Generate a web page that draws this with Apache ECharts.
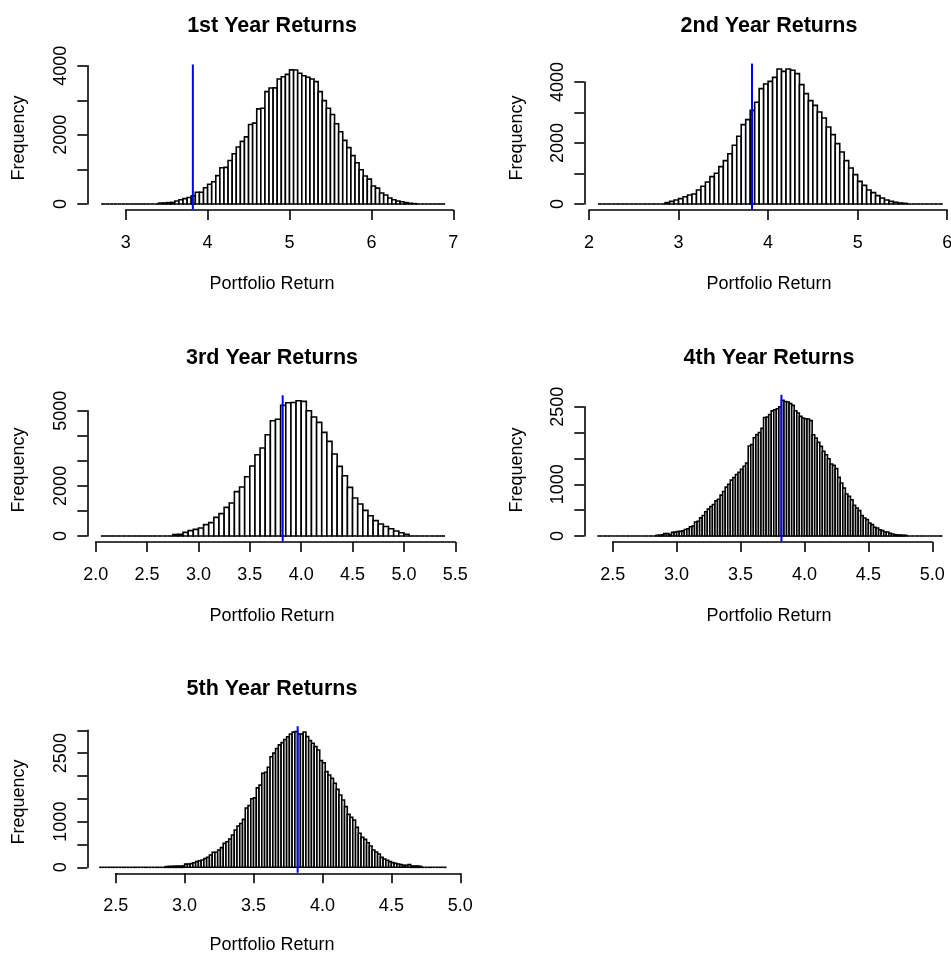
<!DOCTYPE html>
<html>
<head>
<meta charset="utf-8">
<script src="https://cdn.jsdelivr.net/npm/echarts@6/dist/echarts.min.js"></script>
<style>
html, body { margin: 0; padding: 0; background: #fff; }
#chart { width: 951px; height: 953px; }
</style>
</head>
<body>
<div id="chart"></div>
<script>
// titles of the five histograms
var titles = ['1st Year Returns', '2nd Year Returns', '3rd Year Returns', '4th Year Returns', '5th Year Returns'];
var xName = 'Portfolio Return';
var yName = 'Frequency';

// bin width, break range and first non-empty bin of each histogram
var binWidths = [0.05, 0.05, 0.05, 0.02, 0.02];
var breakRanges = [[2.70, 6.90], [2.10, 5.95], [2.05, 5.40], [2.38, 5.08], [2.38, 4.90]];
var firstBins = [3.40, 2.85, 2.75, 2.84, 2.86];

// bin counts
var counts1 = [25, 30, 40, 45, 85, 125, 155, 190, 240, 340, 340, 470, 570, 645, 820, 1050, 1060, 1260, 1455, 1650,
    1810, 1940, 2300, 2340, 2750, 2770, 3250, 3355, 3360, 3615, 3680, 3750, 3880, 3875, 3780, 3710, 3665, 3615, 3540, 3250,
    2990, 2770, 2590, 2320, 2090, 1840, 1630, 1400, 1195, 990, 810, 720, 520, 460, 320, 260, 175, 125, 85, 65, 40, 20, 10];
var counts2 = [44, 87, 131, 175, 240, 295, 328, 459, 580, 721, 896, 1006, 1224, 1421, 1650, 1924, 2219, 2601, 2765, 3071,
    3334, 3782, 3935, 4022, 4153, 4427, 4350, 4427, 4383, 4274, 3913, 3618, 3388, 3235, 3017, 2820, 2525, 2273, 1978, 1705,
    1421, 1180, 962, 743, 612, 459, 372, 273, 197, 131, 87, 55, 33, 22];
var counts3 = [60, 66, 146, 213, 266, 319, 452, 532, 745, 891, 1144, 1317, 1769, 1955, 2367, 2793, 3245, 3511, 4043, 4600,
    4660, 5214, 5320, 5330, 5400, 5373, 5000, 4748, 4535, 4136, 3777, 3272, 2780, 2407, 1942, 1516, 1277, 1024, 811, 612,
    480, 380, 290, 200, 130, 70];
var counts4 = [15, 15, 25, 45, 45, 25, 70, 75, 85, 90, 100, 125, 140, 180, 190, 270, 285, 350, 395, 470,
    520, 570, 610, 680, 710, 790, 860, 945, 1000, 1080, 1130, 1190, 1230, 1290, 1350, 1410, 1740, 1770, 1900, 1960,
    2000, 2080, 2290, 2300, 2350, 2420, 2440, 2460, 2500, 2625, 2600, 2590, 2560, 2526, 2423, 2378, 2313, 2281, 2268, 2262,
    2230, 1959, 1895, 1811, 1733, 1637, 1572, 1495, 1392, 1366, 1302, 1134, 1025, 928, 812, 767, 702, 593, 541, 490,
    393, 348, 316, 251, 219, 168, 155, 122, 103, 77, 77, 52, 39, 26, 19, 19, 13, 13];
var counts5 = [15, 20, 20, 25, 25, 25, 30, 70, 72, 80, 101, 124, 145, 160, 189, 218, 270, 328, 330, 379,
    430, 525, 561, 620, 707, 817, 904, 960, 1050, 1300, 1350, 1500, 1520, 1740, 1800, 2060, 2080, 2190, 2420, 2500,
    2600, 2680, 2730, 2800, 2860, 2920, 2960, 2970, 2920, 2920, 2963, 2861, 2773, 2715, 2642, 2569, 2335, 2291, 2094, 2021,
    1948, 1839, 1707, 1583, 1474, 1328, 1160, 1094, 1036, 875, 744, 656, 612, 539, 467, 379, 335, 291, 218, 182,
    153, 124, 102, 87, 72, 58, 43, 43, 58, 28, 28, 28, 20];
var allCounts = [counts1, counts2, counts3, counts4, counts5];

// vertical reference line
var refLine = 3.82;

// axis ticks and the y tick labels that are printed
var xTicks = [[3, 4, 5, 6, 7], [2, 3, 4, 5, 6], [2.0, 2.5, 3.0, 3.5, 4.0, 4.5, 5.0, 5.5],
    [2.5, 3.0, 3.5, 4.0, 4.5, 5.0], [2.5, 3.0, 3.5, 4.0, 4.5, 5.0]];
var xDecimals = [0, 0, 1, 1, 1];
var yTicks = [[0, 1000, 2000, 3000, 4000], [0, 1000, 2000, 3000, 4000], [0, 1000, 2000, 3000, 4000, 5000],
    [0, 500, 1000, 1500, 2000, 2500], [0, 500, 1000, 1500, 2000, 2500, 3000]];
var yShown = [[0, 2000, 4000], [0, 2000, 4000], [0, 2000, 5000], [0, 1000, 2500], [0, 1000, 2500]];

// panel layout: grid = tick span box, yOff = gap between first x tick and y axis, cx = centre of the plot region
var layout = [
    {left: 125.7, top: 65.7, width: 327.6, height: 138.3, yOff: 38.4, cx: 272, titleY: 26, xlabY: 284, labX: 19, labY: 138},
    {left: 589, top: 82, width: 358.2, height: 122, yOff: 4.7, cx: 769, titleY: 26, xlabY: 284, labX: 517, labY: 138},
    {left: 95.7, top: 410.7, width: 359.6, height: 125.3, yOff: 8.4, cx: 272, titleY: 358, xlabY: 616, labX: 19, labY: 470},
    {left: 612.7, top: 406.7, width: 319.6, height: 129.3, yOff: 28.4, cx: 769, titleY: 358, xlabY: 616, labX: 517, labY: 470},
    {left: 115.7, top: 730.3, width: 344.6, height: 137, yOff: 28.4, cx: 272, titleY: 689, xlabY: 945, labX: 19, labY: 802}
];

var FONT = "'Liberation Sans', Arial, sans-serif";

// turn counts into [start, end, count] bins over the full break range
function buildBins(i) {
    var w = binWidths[i], lo = breakRanges[i][0], hi = breakRanges[i][1];
    var n = Math.round((hi - lo) / w);
    var bins = [];
    for (var k = 0; k < n; k++) {
        var x0 = lo + k * w;
        var idx = Math.round((x0 - firstBins[i]) / w);
        var c = (idx >= 0 && idx < allCounts[i].length) ? allCounts[i][idx] : 0;
        bins.push([+x0.toFixed(3), +(x0 + w).toFixed(3), c]);
    }
    return bins;
}

function renderBar(params, api) {
    var c = api.value(2);
    var p0 = api.coord([api.value(0), c]);
    var p1 = api.coord([api.value(1), 0]);
    if (c === 0) {
        return {type: 'line', shape: {x1: p0[0], y1: p1[1], x2: p1[0], y2: p1[1]},
            style: {stroke: '#000', lineWidth: 1.6}};
    }
    return {type: 'rect', shape: {x: p0[0], y: p0[1], width: p1[0] - p0[0], height: p1[1] - p0[1]},
        style: {fill: '#fff', stroke: '#000', lineWidth: 1.6}};
}

var grids = [], xAxes = [], yAxes = [], series = [], texts = [];

for (var i = 0; i < 5; i++) {
    var L = layout[i];
    var xt = xTicks[i], yt = yTicks[i];
    var maxCount = Math.max.apply(null, allCounts[i]);
    grids.push({left: L.left, top: L.top, width: L.width, height: L.height, containLabel: false, outerBoundsMode: 'none'});
    xAxes.push({
        type: 'value', gridIndex: i, min: xt[0], max: xt[xt.length - 1], interval: xt[1] - xt[0],
        offset: 6,
        axisLine: {show: true, onZero: false, lineStyle: {color: '#000', width: 1.6}},
        axisTick: {show: true, length: 10, lineStyle: {color: '#000', width: 1.6}},
        axisLabel: {color: '#000', fontFamily: FONT, fontSize: 18, margin: 24,
            formatter: (function (d) { return function (v) { return v.toFixed(d); }; })(xDecimals[i])},
        splitLine: {show: false}
    });
    yAxes.push({
        type: 'value', gridIndex: i, min: 0, max: yt[yt.length - 1], interval: yt[1] - yt[0],
        offset: L.yOff,
        axisLine: {show: true, onZero: false, lineStyle: {color: '#000', width: 1.6}},
        axisTick: {show: true, length: 10, lineStyle: {color: '#000', width: 1.6}},
        axisLabel: {color: '#000', fontFamily: FONT, fontSize: 18, margin: 17, rotate: 90,
            formatter: (function (shown) { return function (v) { return shown.indexOf(v) >= 0 ? String(v) : ''; }; })(yShown[i])},
        splitLine: {show: false}
    });
    series.push({
        type: 'custom', xAxisIndex: i, yAxisIndex: i, clip: false,
        renderItem: renderBar, encode: {x: [0, 1], y: 2},
        data: buildBins(i)
    });
    // reference line spans the whole plot region (4% padding on the count range)
    series.push({
        type: 'custom', xAxisIndex: i, yAxisIndex: i, clip: false,
        renderItem: (function (m) {
            return function (params, api) {
                var a = api.coord([api.value(0), -0.04 * m]);
                var b = api.coord([api.value(0), 1.04 * m]);
                return {type: 'line', shape: {x1: a[0], y1: a[1], x2: b[0], y2: b[1]},
                    style: {stroke: '#0000ff', lineWidth: 2}};
            };
        })(maxCount),
        encode: {x: 0},
        data: [[refLine]]
    });
    texts.push({type: 'text', x: L.cx, y: L.titleY,
        style: {text: titles[i], font: 'bold 21.5px ' + FONT, fill: '#000', textAlign: 'center', textVerticalAlign: 'middle'}});
    texts.push({type: 'text', x: L.cx, y: L.xlabY,
        style: {text: xName, font: '18px ' + FONT, fill: '#000', textAlign: 'center', textVerticalAlign: 'middle'}});
    texts.push({type: 'text', x: L.labX, y: L.labY, rotation: Math.PI / 2,
        style: {text: yName, font: '18px ' + FONT, fill: '#000', textAlign: 'center', textVerticalAlign: 'middle'}});
}

var myChart = echarts.init(document.getElementById('chart'));
myChart.setOption({
    animation: false,
    backgroundColor: '#fff',
    grid: grids,
    xAxis: xAxes,
    yAxis: yAxes,
    series: series,
    graphic: texts
});
</script>
</body>
</html>
